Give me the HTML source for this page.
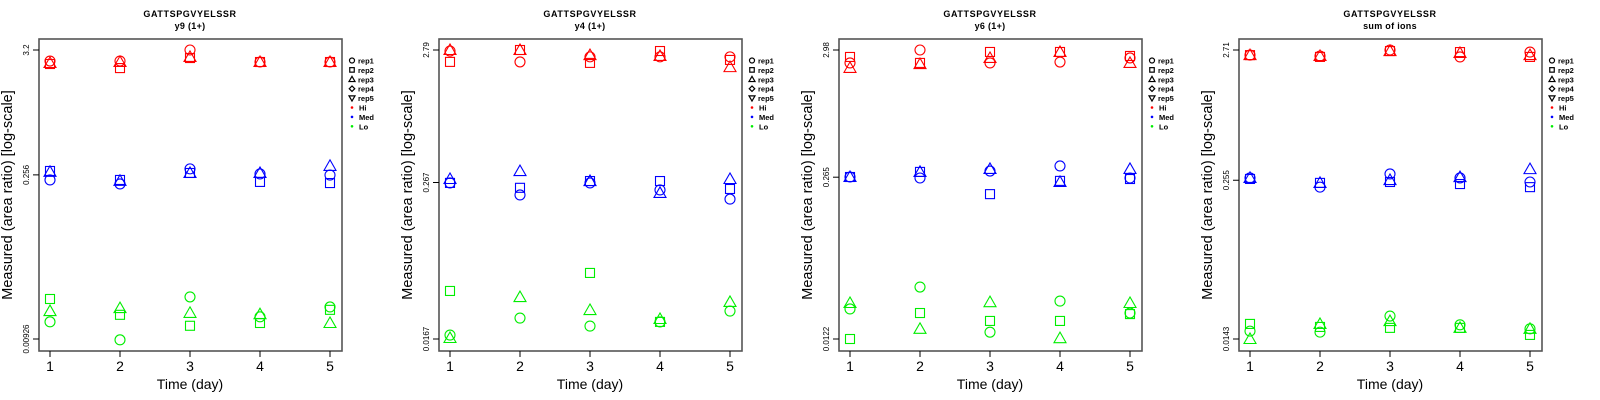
<!DOCTYPE html>
<html><head><meta charset="utf-8"><style>
html,body{margin:0;padding:0;background:#fff;}
svg{display:block;font-family:"Liberation Sans",Arial,sans-serif;}
</style></head><body>
<svg id="chart" width="1600" height="400" viewBox="0 0 1600 400" xmlns="http://www.w3.org/2000/svg"></svg>
<script>
// ---- data ----
const days = [1, 2, 3, 4, 5];
const panelTitles = ["y9 (1+)", "y4 (1+)", "y6 (1+)", "sum of ions"];
const peptide = "GATTSPGVYELSSR";
const axisMax = [3.2, 2.79, 2.98, 2.71];
const axisMid = [0.256, 0.267, 0.265, 0.255];
const axisMin = [0.00926, 0.0167, 0.0122, 0.0143];
const tickLabels = [["3.2","0.256","0.00926"],["2.79","0.267","0.0167"],["2.98","0.265","0.0122"],["2.71","0.255","0.0143"]];
const legendLabels = ["rep1","rep2","rep3","rep4","rep5","Hi","Med","Lo"];
// panel 1: y9
const p1HiRep1 = [2.56,2.56,3.2,2.51,2.51];
const p1HiRep2 = [2.41,2.22,2.72,2.51,2.51];
const p1HiRep3 = [2.46,2.51,2.78,2.51,2.51];
const p1MedRep1 = [0.231,0.213,0.289,0.261,0.255];
const p1MedRep2 = [0.277,0.231,0.266,0.222,0.217];
const p1MedRep3 = [0.272,0.227,0.266,0.266,0.307];
const p1LoRep1 = [0.0131,0.0091,0.0217,0.0145,0.0177];
const p1LoRep2 = [0.0208,0.0151,0.0121,0.0128,0.0167];
const p1LoRep3 = [0.0163,0.0173,0.0157,0.0153,0.0128];
// panel 2: y4
const p2HiRep1 = [2.74,2.26,2.47,2.47,2.47];
const p2HiRep2 = [2.26,2.79,2.22,2.74,2.34];
const p2HiRep3 = [2.79,2.79,2.55,2.51,2.06];
const p2MedRep1 = [0.265,0.214,0.265,0.234,0.199];
const p2MedRep2 = [0.265,0.243,0.274,0.274,0.238];
const p2MedRep3 = [0.284,0.327,0.274,0.222,0.284];
const p2LoRep1 = [0.0179,0.0242,0.0210,0.0226,0.0274];
const p2LoRep2 = [0.0391,null,0.0538,0.0226,null];
const p2LoRep3 = [0.0170,0.0351,0.0279,0.0238,0.0322];
// panel 3: y6
const p3HiRep1 = [2.33,2.98,2.33,2.37,2.56];
const p3HiRep2 = [2.61,2.33,2.87,2.87,2.66];
const p3HiRep3 = [2.12,2.28,2.56,2.87,2.33];
const p3MedRep1 = [0.266,0.261,0.298,0.328,0.261];
const p3MedRep2 = [0.266,0.293,0.192,0.247,0.256];
const p3MedRep3 = [0.266,0.293,0.310,0.242,0.310];
const p3LoRep1 = [0.0216,0.0328,0.0139,0.0251,0.0200];
const p3LoRep2 = [0.0122,0.0200,0.0172,0.0172,0.0196];
const p3LoRep3 = [0.0242,0.0148,0.0246,0.0124,0.0242];
// panel 4: sum of ions
const p4HiRep1 = [2.47,2.43,2.71,2.39,2.61];
const p4HiRep2 = [2.47,2.39,2.66,2.61,2.39];
const p4HiRep3 = [2.47,2.43,2.66,2.57,2.47];
const p4MedRep1 = [0.266,0.225,0.286,0.266,0.247];
const p4MedRep2 = [0.261,0.243,0.247,0.238,0.225];
const p4MedRep3 = [0.266,0.243,0.256,0.270,0.312];
const p4LoRep1 = [0.0165,0.0162,0.0217,0.0185,0.0172];
const p4LoRep2 = [0.0188,0.0178,0.0175,0.0175,0.0154];
const p4LoRep3 = [0.0143,0.0188,0.0198,0.0175,0.0172];

const panelSeries = [
 [[p1HiRep1,p1HiRep2,p1HiRep3],[p1MedRep1,p1MedRep2,p1MedRep3],[p1LoRep1,p1LoRep2,p1LoRep3]],
 [[p2HiRep1,p2HiRep2,p2HiRep3],[p2MedRep1,p2MedRep2,p2MedRep3],[p2LoRep1,p2LoRep2,p2LoRep3]],
 [[p3HiRep1,p3HiRep2,p3HiRep3],[p3MedRep1,p3MedRep2,p3MedRep3],[p3LoRep1,p3LoRep2,p3LoRep3]],
 [[p4HiRep1,p4HiRep2,p4HiRep3],[p4MedRep1,p4MedRep2,p4MedRep3],[p4LoRep1,p4LoRep2,p4LoRep3]]
];
const groupColors = ["#ff0000","#0000ff","#00ee00"];
const groupNames = ["hi","med","lo"];

const NS = "http://www.w3.org/2000/svg";
const svg = document.getElementById("chart");
function mk(tag, attrs, parent, text){
  const e = document.createElementNS(NS, tag);
  for (const k in attrs) e.setAttribute(k, attrs[k]);
  if (text !== undefined) e.textContent = text;
  (parent||svg).appendChild(e);
  return e;
}
function marker(shape, cx, cy, color, parent, s){
  let e;
  if (shape === 0) e = mk("circle",{cx:cx,cy:cy,r:s*0.5,fill:"none",stroke:color,"stroke-width":1.1},parent);
  else if (shape === 1) e = mk("rect",{x:cx-s*0.45,y:cy-s*0.45,width:s*0.9,height:s*0.9,fill:"none",stroke:color,"stroke-width":1.1},parent);
  else if (shape === 2) e = mk("polygon",{points:`${cx},${cy-s*0.6} ${cx-s*0.6},${cy+s*0.45} ${cx+s*0.6},${cy+s*0.45}`,fill:"none",stroke:color,"stroke-width":1.1},parent);
  else if (shape === 3) e = mk("polygon",{points:`${cx},${cy-s*0.55} ${cx+s*0.55},${cy} ${cx},${cy+s*0.55} ${cx-s*0.55},${cy}`,fill:"none",stroke:color,"stroke-width":1.1},parent);
  else e = mk("polygon",{points:`${cx},${cy+s*0.6} ${cx-s*0.6},${cy-s*0.45} ${cx+s*0.6},${cy-s*0.45}`,fill:"none",stroke:color,"stroke-width":1.1},parent);
  return e;
}

const boxL = 39, boxR = 342, boxT = 39, boxB = 351, yTop = 50, yBot = 339;
const xScale = d => 50 + (d - 1) * 70;

for (let p = 0; p < 4; p++){
  const ox = p * 400;
  const g = mk("g",{transform:`translate(${ox},0)`});
  
  
  const lmax = Math.log10(axisMax[p]), lmin = Math.log10(axisMin[p]);
  const yScale = v => yTop + (lmax - Math.log10(v)) / (lmax - lmin) * (yBot - yTop);

  const t1 = mk("text",{x:190,y:17,"text-anchor":"middle","font-size":9,"font-weight":"bold","letter-spacing":"0.6"},g,peptide);
  
  
  const t2 = mk("text",{x:190,y:29,"text-anchor":"middle","font-size":9,"font-weight":"bold","letter-spacing":"0.3"},g,panelTitles[p]);
  
  

  const box = mk("rect",{x:boxL,y:boxT,width:boxR-boxL,height:boxB-boxT,fill:"none",stroke:"#555","stroke-width":1.6},g);
  
  

  // y ticks
  const tv = [axisMax[p], axisMid[p], axisMin[p]];
  for (let i = 0; i < 3; i++){
    const y = yScale(tv[i]);
    const tk = mk("line",{x1:33,x2:boxL,y1:y,y2:y,stroke:"#000","stroke-width":1},g);
    
    
    const tl = mk("text",{x:0,y:0,"text-anchor":"middle","font-size":8,transform:`translate(29,${y}) rotate(-90)`},g,tickLabels[p][i]);
    
    
  }
  // x ticks
  for (const d of days){
    const x = xScale(d);
    const tk = mk("line",{x1:x,x2:x,y1:boxB,y2:boxB+6,stroke:"#000","stroke-width":1},g);
    
    
    const tl = mk("text",{x:x,y:371,"text-anchor":"middle","font-size":14},g,String(d));
    
    
  }
  const xl = mk("text",{x:190,y:389,"text-anchor":"middle","font-size":14},g,"Time (day)");
  
  
  const yl = mk("text",{x:0,y:0,"text-anchor":"middle","font-size":14.5,transform:`translate(12,195) rotate(-90)`},g,"Measured (area ratio) [log-scale]");
  
  

  // points
  for (let gi = 0; gi < 3; gi++){
    for (let r = 0; r < 3; r++){
      const arr = panelSeries[p][gi][r];
      for (let i = 0; i < days.length; i++){
        if (arr[i] == null) continue;
        const m = marker(r, xScale(days[i]), yScale(arr[i]), groupColors[gi], g, 10);
        
        
      }
    }
  }

  // legend
  const lg = mk("g",{},g);
  
  
  for (let i = 0; i < legendLabels.length; i++){
    const y = 60.5 + i * 9.4;
    if (i < 5) {
      const m = marker(i, 352, y, "#000", lg, 5);
      m.setAttribute('stroke-width', 1.2);
    } else {
      const dot = mk("circle",{cx:352,cy:y,r:1.3,fill:groupColors[i-5]},lg);
      
      
    }
    const lt = mk("text",{x:i<5?358:359,y:y+3,"font-size":7.5,"font-weight":"bold"},lg,legendLabels[i]);
    
    
  }
}
</script>
</body></html>
